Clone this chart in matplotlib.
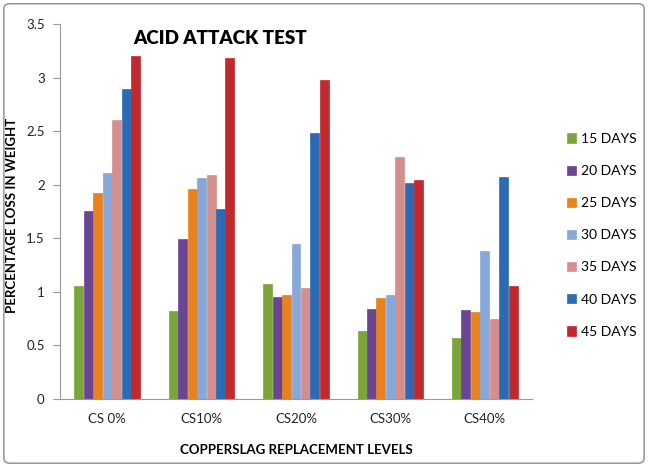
import matplotlib
matplotlib.use("Agg")
import matplotlib.pyplot as plt
import numpy as np
from matplotlib.patches import FancyBboxPatch

plt.rcParams['font.family'] = ['Lato', 'DejaVu Sans']

categories = ["CS 0%", "CS10%", "CS20%", "CS30%", "CS40%"]
series_labels = ["15 DAYS", "20 DAYS", "25 DAYS", "30 DAYS", "35 DAYS", "40 DAYS", "45 DAYS"]
days15 = [1.05, 0.82, 1.07, 0.63, 0.57]
days20 = [1.75, 1.49, 0.95, 0.84, 0.83]
days25 = [1.92, 1.96, 0.97, 0.94, 0.81]
days30 = [2.11, 2.06, 1.45, 0.97, 1.38]
days35 = [2.60, 2.09, 1.04, 2.26, 0.75]
days40 = [2.89, 1.77, 2.48, 2.02, 2.07]
days45 = [3.20, 3.18, 2.98, 2.04, 1.05]
series = [days15, days20, days25, days30, days35, days40, days45]
colors = ["#7BA53A", "#6B4594", "#E8821F", "#86A7D8", "#D58E8E", "#2C6BB3", "#C1292E"]
yticks = [0, 0.5, 1, 1.5, 2, 2.5, 3, 3.5]

fig = plt.figure(figsize=(6.48, 4.66), dpi=100)
ax = fig.add_axes([0.0926, 0.1438, 0.7284, 0.8047])

x = np.arange(len(categories))
width = 0.1
for i, (vals, lab, col) in enumerate(zip(series, series_labels, colors)):
    offs = (i - 3) * width
    ax.bar(x + offs, vals, width=width * 0.95, color=col, label=lab,
           edgecolor=col, linewidth=0.5)

ax.set_xlim(-0.5, len(categories) - 0.5)
ax.set_ylim(0, 3.5)
ax.set_yticks(yticks)
ax.set_yticklabels([f"{t:g}" for t in yticks], fontsize=9.5, color='#222222')
ax.set_xticks(x)
ax.set_xticklabels(categories, fontsize=9.5, color='#222222')
ax.tick_params(axis='x', length=0, pad=10)
ax.tick_params(axis='y', length=5, direction='out', color='#999999', pad=6)
for s in ['top', 'right']:
    ax.spines[s].set_visible(False)
ax.spines['left'].set_color('#999999')
ax.spines['bottom'].set_color('#999999')

ax.set_ylabel("PERCENTAGE LOSS IN WEIGHT", fontsize=9.5, fontweight='bold')
ax.yaxis.set_label_coords(-0.089, 0.49)
ax.set_xlabel("COPPERSLAG REPLACEMENT LEVELS", fontsize=9.5, fontweight='bold', labelpad=14)
ax.text(0.34, 0.985, "ACID ATTACK TEST", transform=ax.transAxes, fontsize=13.5,
        fontweight='heavy', ha='center', va='top')

handles, labels = ax.get_legend_handles_labels()
fig.legend(handles, labels, loc='center left', bbox_to_anchor=(0.856, 0.495),
           frameon=False, fontsize=10, handlelength=0.65, handleheight=0.65,
           handletextpad=0.35, labelspacing=1.45)

border = FancyBboxPatch((0.006, 0.006), 0.988, 0.986, boxstyle="round,pad=0,rounding_size=0.01",
                        transform=fig.transFigure, fill=False, edgecolor='#8c8c8c', linewidth=1)
fig.patches.append(border)

fig.savefig("out.png", dpi=100)
